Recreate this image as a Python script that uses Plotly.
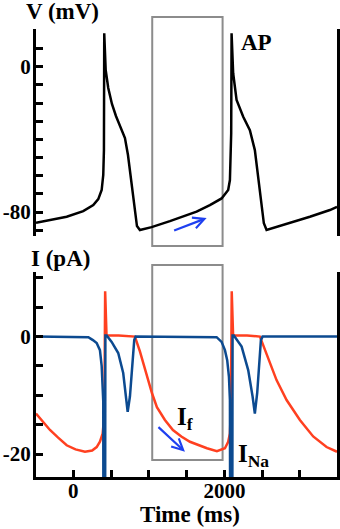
import plotly.graph_objects as go

# ---- data ----
t_v = [-493, -308, -87, 132, 265, 331, 376, 397, 406, 410, 429, 463, 512, 565, 631, 684, 724,
       757, 790, 816, 843, 882, 1037, 1279, 1478, 1632, 1808, 1963, 2050, 2073, 2090, 2095,
       2116, 2161, 2249, 2337, 2403, 2447, 2492, 2522, 2558, 2823, 3131, 3396, 3490]
v_mv = [-85.9, -84.4, -82.6, -79.5, -76.2, -72.9, -67.9, -59.6, -45.9, 18.4, -1.8, -11.7, -20.5,
        -27.1, -33.8, -39.3, -48.6, -59.6, -72.3, -81.7, -87.7, -89.9, -88.3, -85.0, -81.9,
        -79.8, -76.2, -72.5, -67.9, -62.4, -36.5, 18.4, -3.6, -18.3, -27.5, -34.9, -45.9,
        -60.6, -77.1, -86.2, -89.9, -86.6, -82.6, -78.9, -77.1]

t_if = [-493, -400, -308, -200, -87, 30, 155, 250, 310, 353, 389, 403, 414, 422, 440, 600, 816,
        882, 962, 1041, 1107, 1213, 1319, 1430, 1544, 1660, 1769, 1901, 2007, 2050, 2073, 2086,
        2097, 2115, 2300, 2470, 2558, 2690, 2823, 2999, 3175, 3352, 3490]
i_f = [-13.1, -14.6, -15.9, -17.2, -18.5, -19.2, -19.6, -19.4, -18.8, -17.9, -16.5, -14.5, -8.0,
       7.7, 0.2, 0.2, 0.0, -2.5, -6.0, -9.6, -12.0, -14.2, -15.9, -17.0, -17.9, -18.5, -19.0,
       -19.5, -19.0, -17.9, -16.5, -12.0, 7.7, 0.2, 0.2, 0.0, -3.0, -7.4, -10.8, -14.2, -17.0,
       -18.8, -19.6]

t_na = [-493, 0, 200, 260, 310, 353, 376, 397, 410, 425, 442, 508, 595, 661, 693, 720, 750, 780,
        807, 825, 1500, 1897, 1963, 2007, 2037, 2060, 2073, 2093, 2108, 2125, 2228, 2315, 2373,
        2403, 2434, 2460, 2483, 2505, 3490]
i_na = [0, 0, -0.1, -0.6, -1.1, -2.3, -5.0, -11.0, -150, 0.2, 0.2, -0.9, -2.8, -6.2, -10.2, -12.8,
        -10.2, -4.5, -0.6, 0, 0, -0.1, -0.9, -2.3, -4.0, -6.8, -10.8, -150, 0.2, 0.2, -1.7, -5.7,
        -10.2, -13.1, -9.6, -4.0, -0.6, 0, 0]

x_ticks = [0, 500, 1000, 1500, 2000, 2500, 3000]
x_labels = ["0", " ", " ", " ", "2000", " ", " "]
v_ticks = [-90, -80, -70, -60, -50, -40, -30, -20, -10, 0, 10, 20]
v_labels = [" ", "-80", " ", " ", " ", " ", " ", " ", " ", "0", " ", " "]
i_ticks = [-20, -15, -10, -5, 0, 5, 10]
i_labels = ["-20", " ", " ", " ", "0", " ", " "]

box_t = [1045, 1976]

FONT = "Liberation Serif, Times New Roman, Times, serif"
RED = "#FF4020"
BLUE = "#0C4A90"
ARROW = "#1F40F0"

fig = go.Figure()
fig.add_trace(go.Scatter(x=t_v, y=v_mv, mode="lines", xaxis="x", yaxis="y",
                         line=dict(color="black", width=2.5), showlegend=False))
fig.add_trace(go.Scatter(x=t_if, y=i_f, mode="lines", xaxis="x2", yaxis="y2",
                         line=dict(color=RED, width=2.5), showlegend=False))
fig.add_trace(go.Scatter(x=t_na, y=i_na, mode="lines", xaxis="x2", yaxis="y2",
                         line=dict(color=BLUE, width=2.5), showlegend=False))

tickfont = dict(family=FONT, size=21, color="black", weight="bold")
common_y = dict(showline=True, linewidth=3, linecolor="black", mirror=True, ticks="inside",
                ticklen=7, tickwidth=2.5, tickcolor="black", showgrid=False, zeroline=False,
                tickfont=tickfont, automargin=False, ticklabelstandoff=-2)

fig.update_layout(
    template="none",
    width=340, height=529,
    margin=dict(l=36, r=3, t=29, b=52, autoexpand=False),
    font=dict(family=FONT, color="black"),
    paper_bgcolor="white", plot_bgcolor="white",
    xaxis=dict(domain=[0, 1], range=[-493, 3490], anchor="y", visible=False, automargin=False),
    xaxis2=dict(domain=[0, 1], range=[-493, 3490], anchor="y2", matches="x",
                showline=True, linewidth=3, linecolor="black", ticks="inside", ticklen=7,
                tickwidth=2.5, tickcolor="black", showgrid=False, zeroline=False,
                tickvals=x_ticks, ticktext=x_labels, tickfont=tickfont, automargin=False,
                ticklabelstandoff=-7),
    yaxis=dict(domain=[0.5379, 0.9989], range=[-93.2, 20.5], anchor="x",
               tickvals=v_ticks, ticktext=v_labels, **common_y),
    yaxis2=dict(domain=[0, 0.4576], range=[-23.9, 11.0], anchor="x2",
                tickvals=i_ticks, ticktext=i_labels, **common_y),
)

# grey window boxes
fig.add_shape(type="rect", xref="x", yref="paper", x0=box_t[0], x1=box_t[1],
              y0=0.5156, y1=1.0268, line=dict(color="#8C8C8C", width=2), layer="below")
fig.add_shape(type="rect", xref="x2", yref="paper", x0=box_t[0], x1=box_t[1],
              y0=0.0379, y1=0.4732, line=dict(color="#8C8C8C", width=2), layer="below")

def label(text, x, y, size=23, xanchor="center", yanchor="middle"):
    fig.add_annotation(text=text, x=x, y=y, xref="paper", yref="paper", showarrow=False,
                       xanchor=xanchor, yanchor=yanchor,
                       font=dict(family=FONT, size=size, color="black"))

label("<b>V (mV)</b>", 0.088, 1.040)
label("<b>AP</b>", 0.734, 0.969)
label("<b>I (pA)</b>", 0.083, 0.4888)
label("<b>Time (ms)</b>", 0.5116, -0.0826)
label("<b>I<sub>f</sub></b>", 0.462, 0.130, size=25, xanchor="left")
label("<b>I<sub>Na</sub></b>", 0.666, 0.048, size=25, xanchor="left")

# arrows
fig.add_annotation(x=1765, y=-83.3, xref="x", yref="y", ax=-34, ay=13, axref="pixel",
                   ayref="pixel", showarrow=True, arrowhead=5, arrowsize=1, arrowwidth=2.2,
                   arrowcolor=ARROW, text="")
fig.add_annotation(x=1478, y=-19.6, xref="x2", yref="y2", ax=-28, ay=-26, axref="pixel",
                   ayref="pixel", showarrow=True, arrowhead=5, arrowsize=1, arrowwidth=2.2,
                   arrowcolor=ARROW, text="")

fig.write_html("out.html", config={"displayModeBar": False},
               post_script="document.body.style.margin='0';document.body.style.overflow='hidden';")
